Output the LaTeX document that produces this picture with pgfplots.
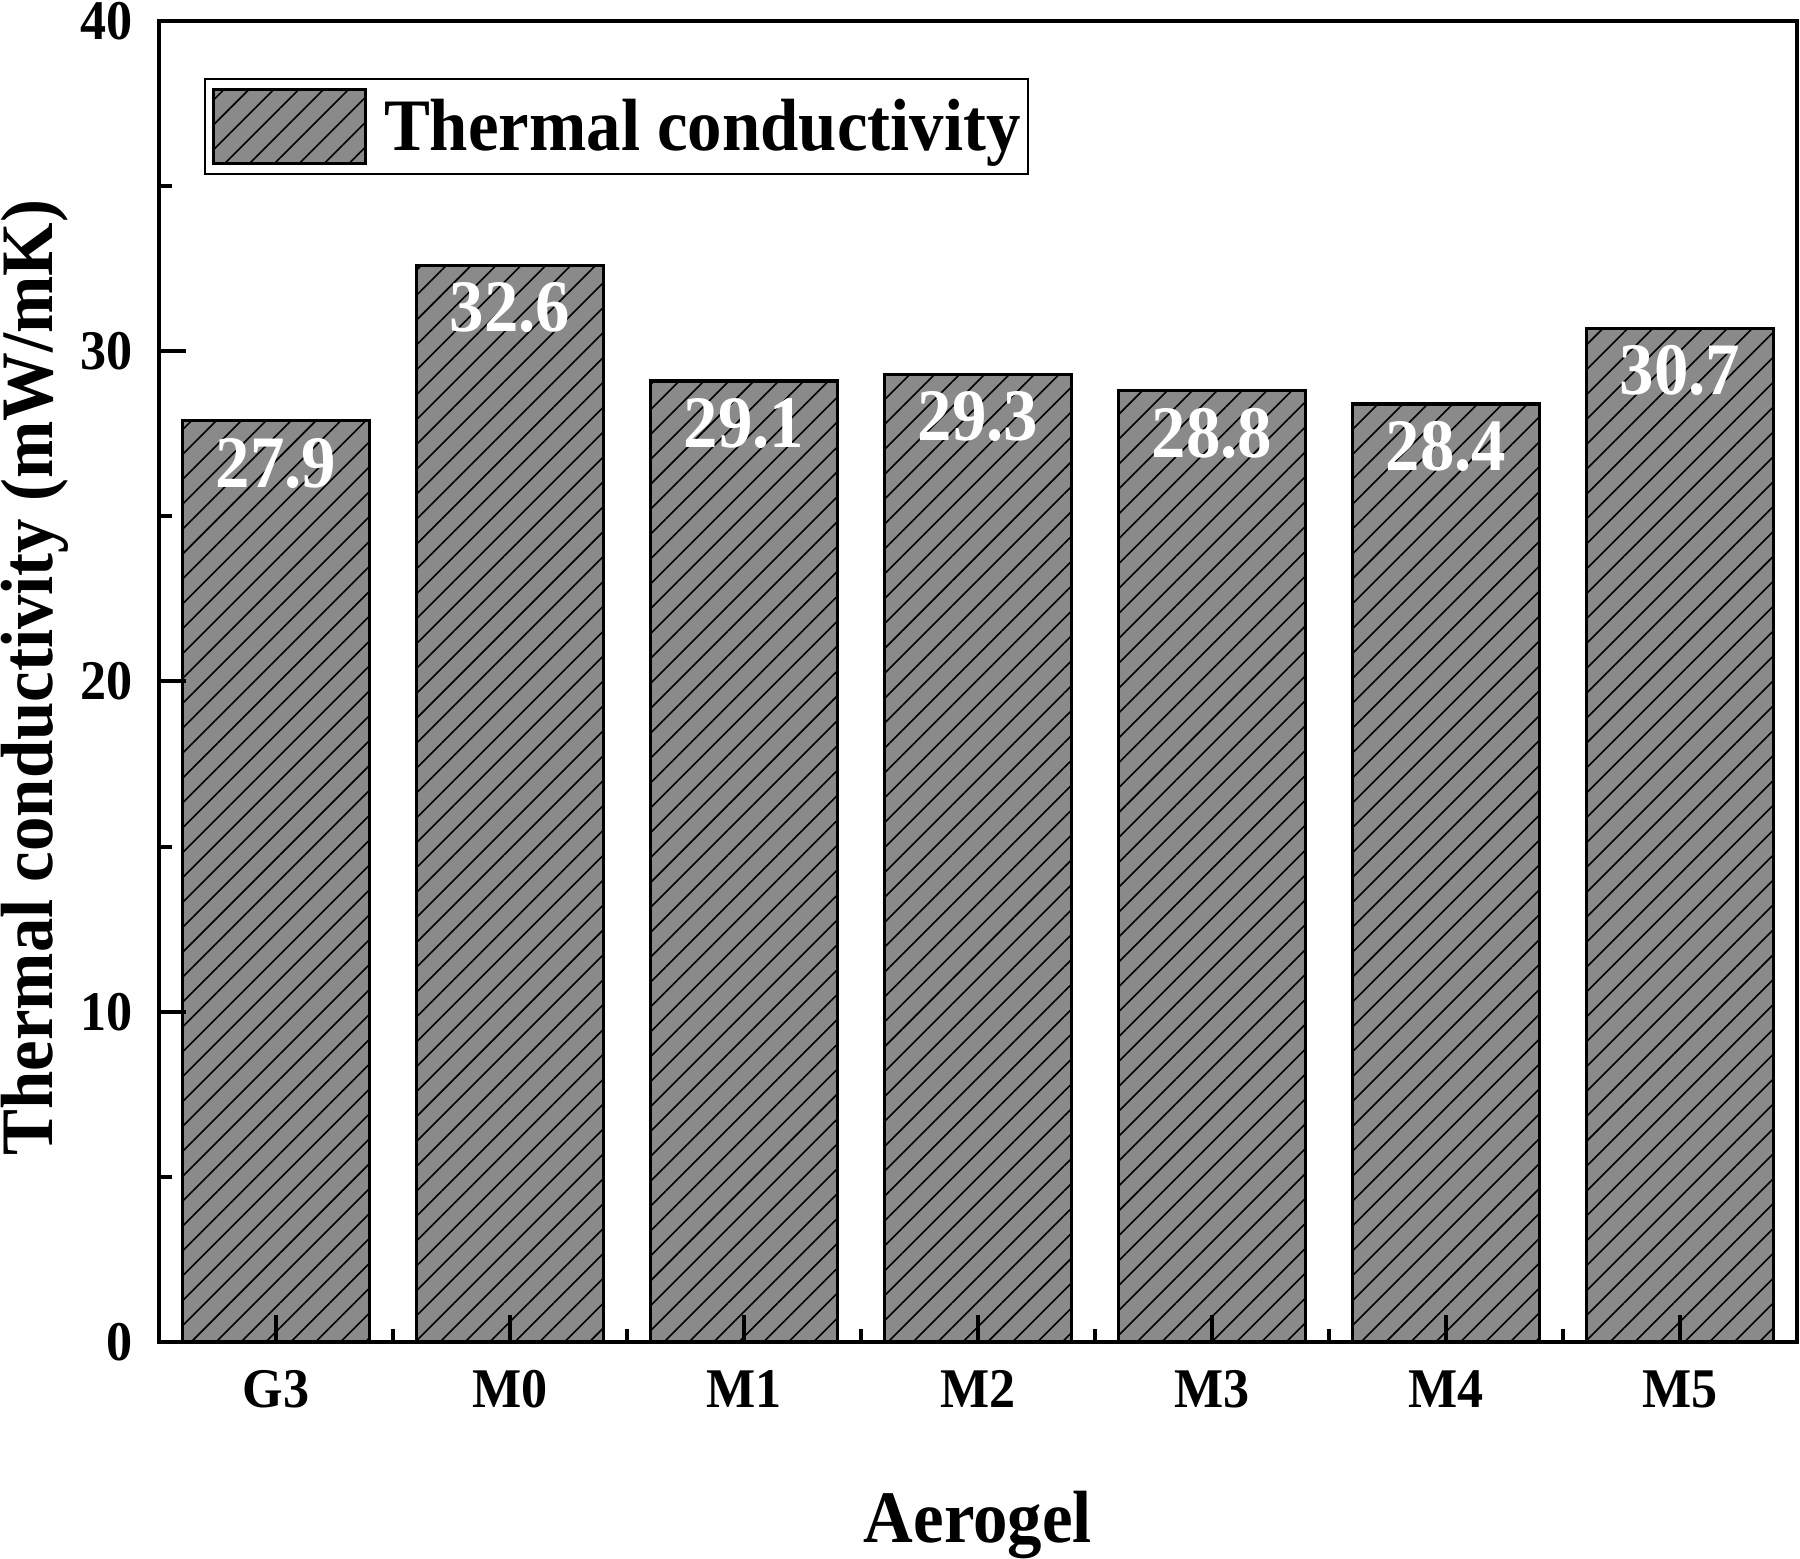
\documentclass[border=0pt]{standalone}
\usepackage{fontspec}
\setmainfont{Liberation Serif}[FakeStretch=0.93]
\usepackage{pgfplots}
\pgfplotsset{compat=1.18}
\usepackage{pgfplotstable}
\usetikzlibrary{patterns.meta}
\definecolor{barfill}{RGB}{138,138,138}
\newcommand{\lab}{\bfseries\fontsize{18.5}{20}\selectfont}
\newcommand{\tk}{\bfseries\fontsize{14}{16}\selectfont}
\pgfplotsset{mylegend/.style={legend image code/.code={\draw[##1] (0pt,-8.85pt) rectangle (37.9pt,9.55pt);}}}
\pgfplotstableread{
x y lab
0 27.9 27.9
1 32.6 32.6
2 29.1 29.1
3 29.3 29.3
4 28.8 28.8
5 28.4 28.4
6 30.7 30.7
}\datatab
\begin{document}
\begin{tikzpicture}
\begin{axis}[
  scale only axis, width=409.5pt, height=330.25pt,
  xmin=-0.5, xmax=6.5, ymin=0, ymax=40,
  axis on top,
  axis line style={line width=1pt},
  tick align=inside, tick pos=left,
  xtick={0,...,6}, xticklabels={G3,M0,M1,M2,M3,M4,M5},
  minor xtick={0.5,1.5,2.5,3.5,4.5,5.5},
  ytick={0,10,20,30,40}, minor ytick={5,15,25,35},
  major tick length=6.75pt, minor tick length=3.25pt,
  major tick style={line width=1pt,black},
  minor tick style={line width=1pt,black},
  /pgf/number format/assume math mode=true,
  ticklabel style={font=\tk},
  yticklabel style={xshift=-3pt},
  xticklabel style={yshift=-3.6pt},
  xlabel={Aerogel}, ylabel={Thermal conductivity (mW/mK)},
  label style={font=\lab},
  xlabel style={at={(axis description cs:0.5,-0.152)}, anchor=base},
  ylabel style={at={(axis description cs:-0.0653,0.503)}, anchor=base},
  legend style={at={(axis description cs:0.0275,0.9569)}, anchor=north west,
    draw=black, line width=0.5pt, inner xsep=1.8pt, inner ysep=2.3pt,
    nodes={inner sep=0pt, font=\lab}, column sep=4.25pt},
  legend cell align=left,
]
\addplot[ybar, bar width=0.8, draw=black, line width=0.8pt,
  preaction={fill=barfill},
  pattern={Lines[angle=45,distance=4.4pt,line width=0.4pt]}, pattern color=black,
  mylegend,
  point meta=explicit symbolic,
  nodes near coords, nodes near coords align={below},
  every node near coord/.append style={text=white, font=\lab, inner sep=4pt, draw=none}
] table[x=x, y=y, meta=lab] {\datatab};
\addlegendentry{Thermal conductivity}
\coordinate (ll) at (rel axis cs:0,0);
\coordinate (ur) at (rel axis cs:1,1);
\end{axis}
\pgfresetboundingbox
\useasboundingbox ([shift={(-39.75pt,-54pt)}]ll) rectangle ([shift={(0.75pt,5.25pt)}]ur);
\end{tikzpicture}
\end{document}
